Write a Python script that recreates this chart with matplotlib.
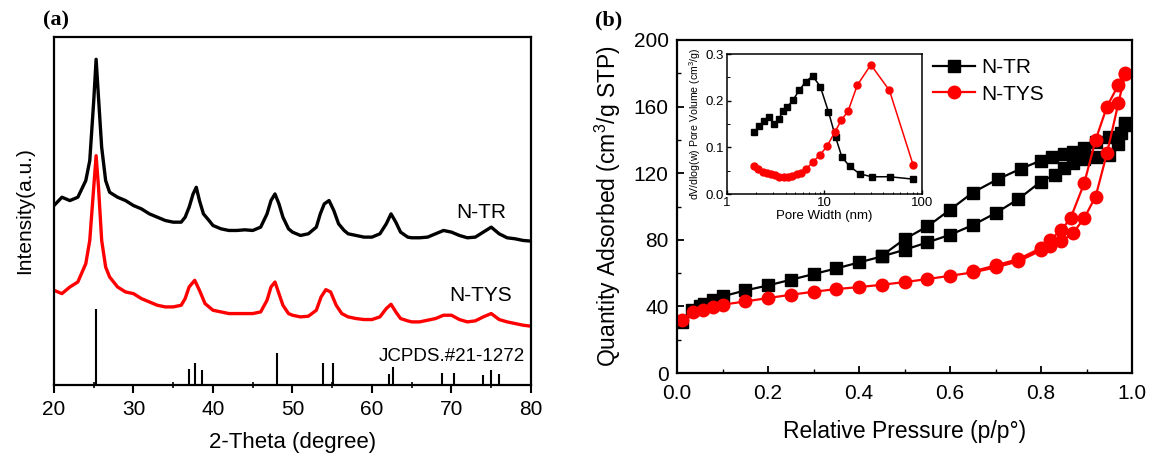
import matplotlib
matplotlib.use('Agg')
import matplotlib.pyplot as plt
from matplotlib.ticker import MultipleLocator

plt.rcParams['font.family'] = ['Liberation Sans', 'DejaVu Sans']
plt.rcParams['mathtext.default'] = 'regular'

# ---- (a) XRD, intensity in arbitrary units
two_theta = [20, 21, 22, 23, 24, 24.5, 25, 25.3, 25.6, 26, 26.5, 27, 28, 29, 30, 31, 32, 33, 34, 35,
             36, 36.5, 37, 37.5, 37.9, 38.3, 38.8, 39.5, 40, 41, 42, 43, 44, 45, 46, 46.8, 47.3, 47.8,
             48.3, 48.8, 49.5, 50, 51, 52, 53, 53.5, 54, 54.6, 55.2, 55.8, 56.5, 57, 58, 59, 60, 61,
             61.8, 62.4, 63, 63.6, 64.5, 65, 66, 67, 68, 69, 70, 71, 72, 73, 74, 75, 76, 77, 78, 79, 80]
ntr_xrd = [540, 565, 555, 565, 615, 675, 855, 980, 865, 715, 615, 580, 565, 555, 540, 530, 515, 505, 495, 490,
           490, 505, 535, 575, 595, 555, 515, 495, 480, 470, 465, 465, 467, 465, 475, 515, 555, 575,
           545, 505, 470, 460, 450, 455, 475, 515, 545, 555, 525, 485, 465, 455, 450, 445, 445, 455,
           485, 515, 490, 460, 445, 443, 443, 445, 455, 465, 460, 450, 443, 445, 460, 475, 455, 443, 440, 435, 433]

two_theta_tys = [20, 21, 22, 23, 24, 24.5, 25, 25.3, 25.6, 26, 26.5, 27, 28, 29, 30, 31, 32, 33, 34, 35,
                 36, 36.5, 37, 37.7, 38.3, 39, 40, 41, 42, 43, 44, 45, 46, 46.8, 47.3, 47.8, 48.3, 48.8,
                 49.5, 50, 51, 52, 53, 53.6, 54.2, 54.8, 55.5, 56.2, 57, 58, 59, 60, 61, 61.8, 62.4, 63,
                 63.6, 64.5, 65, 66, 67, 68, 69, 70, 71, 72, 73, 74, 75, 76, 77, 78, 79, 80]
ntys_xrd = [285, 275, 295, 310, 365, 435, 595, 690, 595, 435, 355, 325, 295, 280, 275, 260, 250, 240, 235, 235,
            240, 260, 295, 315, 285, 245, 225, 220, 215, 215, 215, 215, 220, 255, 295, 310, 275, 240,
            215, 210, 205, 207, 225, 265, 287, 280, 240, 215, 205, 200, 197, 197, 205, 230, 243, 220,
            200, 193, 190, 190, 195, 200, 210, 210, 197, 190, 193, 205, 215, 197, 190, 185, 180, 177]

jcpds_pos = [25.3, 37.0, 37.8, 38.6, 48.05, 53.9, 55.1, 62.1, 62.7, 68.8, 70.3, 74.0, 75.0, 76.0]
jcpds_int = [230, 47, 67, 45, 97, 67, 67, 33, 55, 37, 37, 29, 45, 33]

# ---- (b) N2 isotherms
ntr_p = [0.01, 0.034, 0.05, 0.06, 0.08, 0.10, 0.15, 0.20, 0.25, 0.30, 0.35, 0.40, 0.45, 0.50, 0.55, 0.60,
         0.65, 0.70, 0.75, 0.80, 0.83, 0.85, 0.87, 0.895, 0.92, 0.95, 0.97, 0.985,
         0.985, 0.975, 0.95, 0.92, 0.895, 0.87, 0.85, 0.825, 0.80, 0.755, 0.705, 0.65, 0.60, 0.55, 0.50, 0.45]
ntr_q = [30.4, 38, 40.4, 41.6, 43.6, 46, 49.6, 52.6, 56, 59.4, 62.8, 66.4, 70, 74, 78.4, 83,
         88.8, 96, 104.4, 115, 119, 123, 126, 128.4, 130, 131, 137.6, 149,
         150, 144, 142, 139, 135, 133, 131.4, 129.6, 127.6, 122.6, 116.4, 108.4, 98, 88, 80.4, 70.4]

ntys_p = [0.01, 0.035, 0.058, 0.08, 0.10, 0.15, 0.20, 0.25, 0.30, 0.35, 0.40, 0.45, 0.50, 0.55, 0.60, 0.65,
          0.70, 0.75, 0.80, 0.82, 0.845, 0.87, 0.895, 0.92, 0.945, 0.97, 0.985,
          0.985, 0.97, 0.945, 0.92, 0.895, 0.865, 0.845, 0.82, 0.80, 0.75, 0.70, 0.65]
ntys_q = [31.6, 36.4, 38, 39.6, 41, 43, 45, 47, 48.8, 50.4, 51.6, 53, 54.6, 56.4, 58.4, 60.4,
          63.4, 67, 73.6, 76, 79, 84, 93, 106, 132, 162, 179.6,
          180, 173, 160, 140, 114, 93, 86, 80, 75, 68.4, 64.6, 61]

# ---- inset: pore size distribution
ntr_w = [1.90, 2.14, 2.41, 2.72, 3.06, 3.40, 3.74, 4.15, 4.75, 5.49, 6.44, 7.56, 9.07, 11.0, 13.0,
         15.1, 18.2, 23.1, 30.6, 46.8, 80.0]
ntr_dv = [0.133, 0.145, 0.156, 0.165, 0.149, 0.160, 0.178, 0.186, 0.201, 0.222, 0.241, 0.253, 0.230,
          0.176, 0.122, 0.079, 0.059, 0.043, 0.037, 0.037, 0.032]
ntys_w = [1.90, 2.10, 2.33, 2.57, 2.83, 3.14, 3.45, 3.83, 4.22, 4.67, 5.19, 5.80, 6.44, 7.56, 9.0,
          10.6, 12.7, 14.9, 17.5, 21.7, 29.9, 46.4, 81.0]
ntys_dv = [0.059, 0.053, 0.048, 0.045, 0.042, 0.040, 0.037, 0.037, 0.037, 0.039, 0.042, 0.046, 0.053,
           0.068, 0.084, 0.102, 0.132, 0.158, 0.178, 0.233, 0.277, 0.222, 0.063]

fig = plt.figure(figsize=(11.51, 4.55), dpi=100)

# ===== panel (a)
ax1 = fig.add_axes([0.0469, 0.1538, 0.4144, 0.7648])
ax1.plot(two_theta, ntr_xrd, color='black', lw=2.4)
ax1.plot(two_theta_tys, ntys_xrd, color='red', lw=2.4)
ax1.vlines(jcpds_pos, 0, jcpds_int, color='black', lw=1.5)
ax1.set_xlim(20, 80)
ax1.set_ylim(0, 1047)
ax1.set_yticks([])
ax1.xaxis.set_major_locator(MultipleLocator(10))
ax1.xaxis.set_minor_locator(MultipleLocator(5))
ax1.tick_params(axis='x', which='major', direction='out', length=6, width=1.5, labelsize=15, pad=5, top=False)
ax1.tick_params(axis='x', which='minor', direction='inout', length=5, width=1.2, top=False)
for s in ax1.spines.values():
    s.set_linewidth(1.6)
ax1.set_xlabel('2-Theta (degree)', fontsize=16, labelpad=9)
ax1.set_ylabel('Intensity(a.u.)', fontsize=15, labelpad=14)
ax1.text(73.7, 520, 'N-TR', fontsize=15, ha='center', va='center')
ax1.text(73.7, 270, 'N-TYS', fontsize=15, ha='center', va='center')
ax1.text(79.2, 87, 'JCPDS.#21-1272', fontsize=13.5, ha='right', va='center')
fig.text(0.037, 0.955, '(a)', fontsize=16, fontweight='bold', family='Liberation Serif', va='center')

# ===== panel (b)
ax2 = fig.add_axes([0.5882, 0.1802, 0.3953, 0.7319])
ax2.plot(ntr_p, ntr_q, color='black', marker='s', ms=8, lw=1.6, label='N-TR')
ax2.plot(ntys_p, ntys_q, color='red', marker='o', ms=9, lw=1.6, label='N-TYS')
ax2.set_xlim(0, 1.0)
ax2.set_ylim(0, 200)
ax2.xaxis.set_major_locator(MultipleLocator(0.2))
ax2.xaxis.set_minor_locator(MultipleLocator(0.1))
ax2.yaxis.set_major_locator(MultipleLocator(40))
ax2.yaxis.set_minor_locator(MultipleLocator(20))
ax2.tick_params(which='major', direction='in', length=5, width=1.3, labelsize=15)
ax2.tick_params(axis='x', which='major', pad=8)
ax2.tick_params(axis='y', which='major', pad=6)
ax2.tick_params(which='minor', direction='in', length=3, width=1.0)
for s in ax2.spines.values():
    s.set_linewidth(1.6)
ax2.xaxis.set_major_formatter(plt.FuncFormatter(lambda v, p: f'{v:.1f}'))
ax2.set_xlabel('Relative Pressure (p/p°)', fontsize=16.5, labelpad=12)
ax2.set_ylabel('Quantity Adsorbed (cm$^3$/g STP)', fontsize=16.5, labelpad=8)
ax2.legend(loc='upper left', bbox_to_anchor=(0.545, 0.97), frameon=False, fontsize=15,
           handlelength=2.0, handletextpad=0.3, labelspacing=0.35, borderaxespad=0)
fig.text(0.517, 0.955, '(b)', fontsize=16, fontweight='bold', family='Liberation Serif', va='center')

# inset
ax3 = fig.add_axes([0.6316, 0.5736, 0.1694, 0.3077])
ax3.plot(ntr_w, ntr_dv, color='black', marker='s', ms=4.5, lw=1.1)
ax3.plot(ntys_w, ntys_dv, color='red', marker='o', ms=5, lw=1.1)
ax3.set_xscale('log')
ax3.set_xlim(1, 100)
ax3.set_ylim(0, 0.3)
ax3.set_xticks([1, 10, 100])
ax3.set_xticklabels(['1', '10', '100'])
ax3.yaxis.set_major_locator(MultipleLocator(0.1))
ax3.yaxis.set_minor_locator(MultipleLocator(0.05))
ax3.tick_params(which='major', direction='in', length=3, width=1.0, labelsize=9.5, pad=2)
ax3.tick_params(which='minor', direction='in', length=1.8, width=0.7)
for s in ax3.spines.values():
    s.set_linewidth(1.1)
ax3.set_xlabel('Pore Width (nm)', fontsize=9.5, labelpad=1)
ax3.set_ylabel('dV/dlog(w) Pore Volume (cm$^3$/g)', fontsize=7.6, labelpad=2)

fig.savefig('out.png', dpi=100)
